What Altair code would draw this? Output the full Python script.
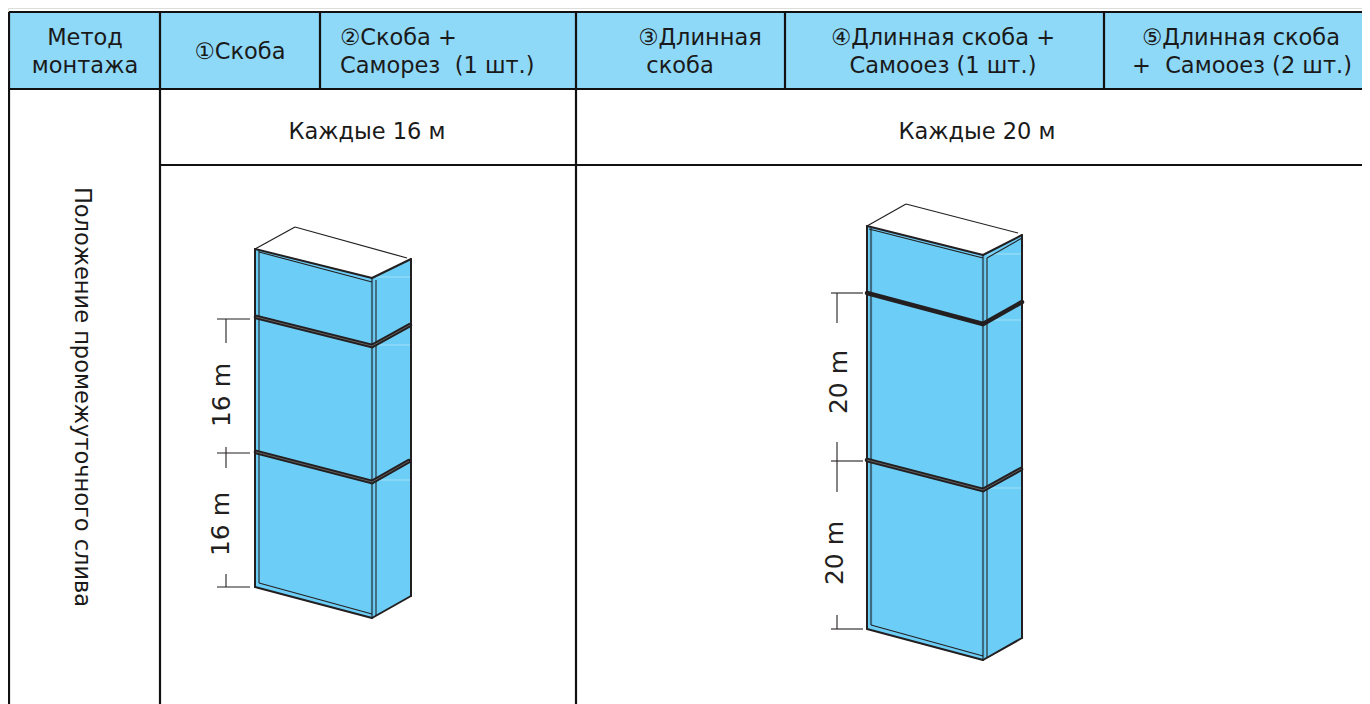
import altair as alt
import pandas as pd

FONT = "DejaVu Sans"
X0, X1, Y0, Y1 = 8, 1362, 8, 704
INK = "#231f20"; GRID = "#111111"; SHADE = "#3c6a80"; FAINT = "#a5e0f8"; STRIPE = "#777777"
HEAD = "#8ed8f8"; BLUE = "#6ccef6"

# filled zones: x, top, bottom
head_x = [9, 1362]; head_top = [12, 12]; head_bot = [89, 89]
small_front_x = [255, 372]; small_front_top = [249, 278]; small_front_bot = [587, 618]
small_side_x = [372, 411]; small_side_top = [278, 259]; small_side_bot = [618, 596]
large_front_x = [867, 983]; large_front_top = [226, 255]; large_front_bot = [629, 660]
large_side_x = [983, 1022]; large_side_top = [255, 235]; large_side_bot = [660, 638]

# line segments: x, y, x2, y2
grid_lines = [
    (9, 12, 1362, 12), (9, 89, 1362, 89), (160, 165, 1362, 165),
    (9, 12, 9, 704), (160, 12, 160, 704), (320, 12, 320, 89), (576, 12, 576, 704),
    (785, 12, 785, 89), (1104, 12, 1104, 89),
]
outline_thin = [(255, 249, 295, 227), (295, 227, 407, 258), (867, 226, 906, 204), (906, 204, 1018, 233)]
outline = [
    (255, 249, 372, 278), (372, 278, 411, 259),
    (255, 249, 255, 587), (411, 259, 411, 596), (255, 587, 372, 618), (372, 618, 411, 596),
    (867, 226, 983, 255), (983, 255, 1022, 235),
    (867, 226, 867, 629), (1022, 235, 1022, 638), (867, 629, 983, 660), (983, 660, 1022, 638),
]
inner_dark = [
    (259, 251, 259, 583), (376, 280, 376, 616), (259, 252, 372, 282), (259, 583, 372, 614),
    (987, 258, 987, 658), (869, 229, 983, 258), (871, 625, 983, 656), (987, 258, 1022, 238),
]
inner_shade = [(372, 278, 372, 618), (983, 255, 983, 660), (871, 228, 871, 625)]
bands = [
    (256, 317, 372, 346), (372, 346, 410, 325), (256, 452, 372, 482), (372, 482, 409, 461),
    (867, 293, 983, 324), (983, 324, 1022, 302), (867, 460, 983, 490), (983, 490, 1021, 469),
]
stripes = [
    (256, 317, 372, 346), (372, 346, 410, 325), (256, 452, 372, 482), (372, 482, 409, 461),
    (867, 460, 983, 490), (983, 490, 1021, 469),
]
dims = [
    (217, 319, 250, 319), (226, 319, 226, 343), (226, 447, 226, 468), (217, 453, 250, 453),
    (226, 574, 226, 587), (217, 587, 250, 587),
    (831, 293, 863, 293), (837, 293, 837, 323), (837, 442, 837, 492), (831, 461, 863, 461),
    (837, 615, 837, 629), (831, 629, 863, 629),
]
faint = [(376, 277, 410, 277), (376, 345, 410, 345), (376, 480, 410, 480),
         (987, 254, 1021, 254), (987, 320, 1021, 320), (987, 488, 1021, 488)]

# texts: label, x, y
center_texts = [
    ("Метод", 85, 38), ("монтажа", 85, 66), ("①Скоба", 240, 52),
    ("③Длинная", 700, 38), ("скоба", 680, 66),
    ("④Длинная скоба +", 943, 38), ("Самооез (1 шт.)", 943, 66),
    ("⑤Длинная скоба", 1241, 38), ("+\u00a0\u00a0Самооез (2 шт.)", 1242, 66),
    ("Каждые 16 м", 367, 132), ("Каждые 20 м", 977, 132),
]
left_texts = [("②Скоба +", 340, 38), ("Саморез\u00a0\u00a0(1 шт.)", 340, 66)]
side_texts = [("Положение промежуточного слива", 82, 397)]
dim_texts = [("16 m", 222, 395), ("16 m", 221, 524), ("20 m", 839, 382), ("20 m", 835, 553)]

xs = alt.Scale(domain=[X0, X1], range=[0, X1 - X0], nice=False, zero=False)
ys = alt.Scale(domain=[Y0, Y1], range=[0, Y1 - Y0], nice=False, zero=False)
X = lambda f: alt.X(f, type="quantitative", scale=xs, axis=None)
Y = lambda f: alt.Y(f, type="quantitative", scale=ys, axis=None)


def zone(x, top, bot, colour):
    df = pd.DataFrame({"x": x, "t": top, "b": bot})
    return alt.Chart(df).mark_area(color=colour, opacity=1, interpolate="linear", line=False, clip=True).encode(
        x=X("x"), y=Y("t"), y2=alt.Y2("b"))


def segs(rows, colour, width, cap="butt"):
    df = pd.DataFrame(rows, columns=["x", "y", "x2", "y2"])
    return alt.Chart(df).mark_rule(color=colour, strokeWidth=width, strokeCap=cap, clip=True).encode(
        x=X("x"), y=Y("y"), x2=alt.X2("x2"), y2=alt.Y2("y2"))


def texts(rows, size, align="center", angle=0, colour="#1a1a1a"):
    df = pd.DataFrame(rows, columns=["t", "x", "y"])
    return alt.Chart(df).mark_text(font=FONT, fontSize=size, align=align, baseline="middle",
                                   angle=angle, color=colour).encode(x=X("x"), y=Y("y"), text="t:N")


chart = alt.layer(
    zone(head_x, head_top, head_bot, HEAD),
    zone(small_front_x, small_front_top, small_front_bot, BLUE),
    zone(small_side_x, small_side_top, small_side_bot, BLUE),
    zone(large_front_x, large_front_top, large_front_bot, BLUE),
    zone(large_side_x, large_side_top, large_side_bot, BLUE),
    segs(faint, FAINT, 1),
    segs(inner_shade, SHADE, 2.2),
    segs(inner_dark, INK, 1.1),
    segs(outline_thin, INK, 1.2),
    segs(outline, INK, 2, cap="round"),
    segs(bands, INK, 4.5, cap="round"),
    segs(stripes, STRIPE, 0.7),
    segs(dims, INK, 1.1),
    segs(grid_lines, GRID, 2.2),
    texts(center_texts, 22.5),
    texts(left_texts, 22.5, align="left"),
    texts(side_texts, 22.5, angle=90),
    texts(dim_texts, 25, angle=270, colour=INK),
).properties(
    width=X1 - X0, height=Y1 - Y0, padding=0,
    autosize=alt.AutoSizeParams(type="none"),
).configure_view(stroke=None).configure(background="white")

chart.save("out.html", embed_options={"renderer": "svg", "actions": False})
